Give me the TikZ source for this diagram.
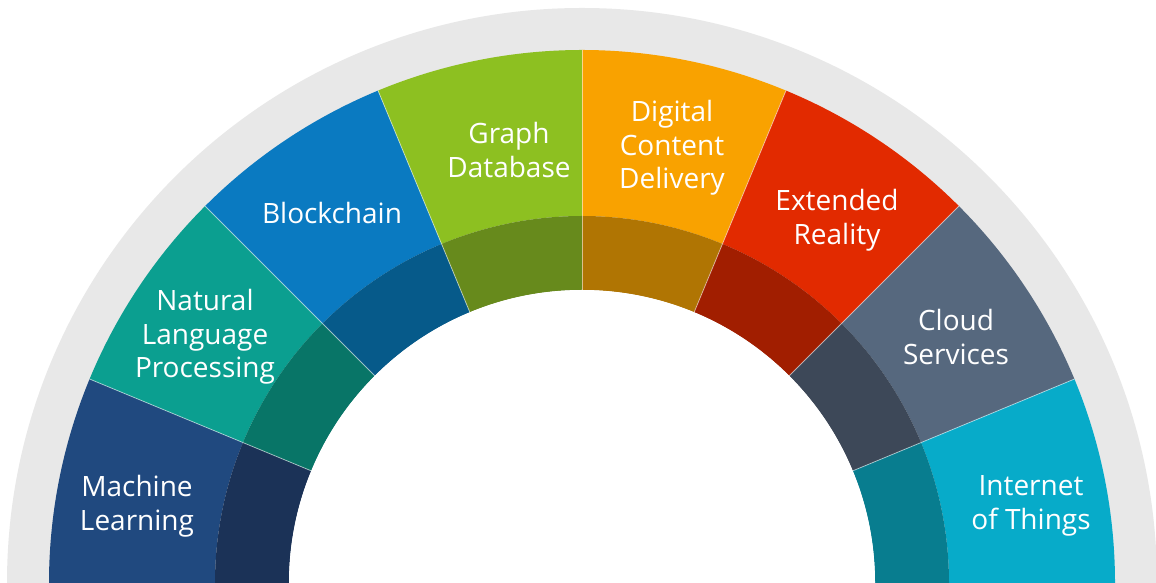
\documentclass[tikz,border=0pt]{standalone}
\usepackage{fontspec}
\setmainfont{Open Sans}
\definecolor{ringgray}{HTML}{E8E8E8}
\definecolor{cML}{HTML}{20497F}\definecolor{dML}{HTML}{1B3257}
\definecolor{cNLP}{HTML}{0B9F90}\definecolor{dNLP}{HTML}{087567}
\definecolor{cBC}{HTML}{0A7AC1}\definecolor{dBC}{HTML}{065A8A}
\definecolor{cGD}{HTML}{8DC021}\definecolor{dGD}{HTML}{678A1C}
\definecolor{cDC}{HTML}{F9A200}\definecolor{dDC}{HTML}{B07503}
\definecolor{cXR}{HTML}{E22A00}\definecolor{dXR}{HTML}{A11E00}
\definecolor{cCS}{HTML}{56687E}\definecolor{dCS}{HTML}{3D4858}
\definecolor{cIT}{HTML}{07ABC9}\definecolor{dIT}{HTML}{087D8F}
\begin{document}
\begin{tikzpicture}[x=1pt,y=1pt,
  lbl/.style={text=white,align=center,inner sep=0pt,font=\fontsize{28}{33.5}\selectfont},
  sep/.style={white,opacity=0.55,line width=0.8pt}]
\useasboundingbox (0,0) rectangle (1156,583);
\fill[white] (0,0) rectangle (1156,583);
\begin{scope}[shift={(582,0)}]
  \fill[ringgray] (0:575) arc[start angle=0,end angle=180,radius=575] -- cycle;
  \foreach \i/\c/\d in {0/cML/dML,1/cNLP/dNLP,2/cBC/dBC,3/cGD/dGD,4/cDC/dDC,5/cXR/dXR,6/cCS/dCS,7/cIT/dIT}{
    \pgfmathsetmacro\a{180-22.5*\i}
    \pgfmathsetmacro\b{\a-22.5}
    \fill[\c] (\a:533) arc[start angle=\a,end angle=\b,radius=533] -- (\b:367)
      arc[start angle=\b,end angle=\a,radius=367] -- cycle;
    \fill[\d] (\a:367) arc[start angle=\a,end angle=\b,radius=367] -- (\b:293)
      arc[start angle=\b,end angle=\a,radius=293] -- cycle;
  }
  \fill[white] (0:293) arc[start angle=0,end angle=180,radius=293] -- cycle;
  \foreach \k in {1,...,7}{
    \draw[sep] ({180-22.5*\k}:293) -- ({180-22.5*\k}:533);
  }
\end{scope}
\node[lbl] (ml)  at (137,77)  {Machine\\Learning};
\node[lbl] (nlp) at (205,246) {Natural\\Language\\Processing};
\node[lbl] (bc)  at (332,370) {Blockchain};
\node[lbl] (gd)  at (509,433) {Graph\\Database};
\node[lbl] (dc)  at (672,435) {Digital\\Content\\Delivery};
\node[lbl] (xr)  at (837,363) {Extended\\Reality};
\node[lbl] (cs)  at (956,246) {Cloud\\Services};
\node[lbl] (it)  at (1031,77) {Internet\\of Things};
\end{tikzpicture}
\end{document}
